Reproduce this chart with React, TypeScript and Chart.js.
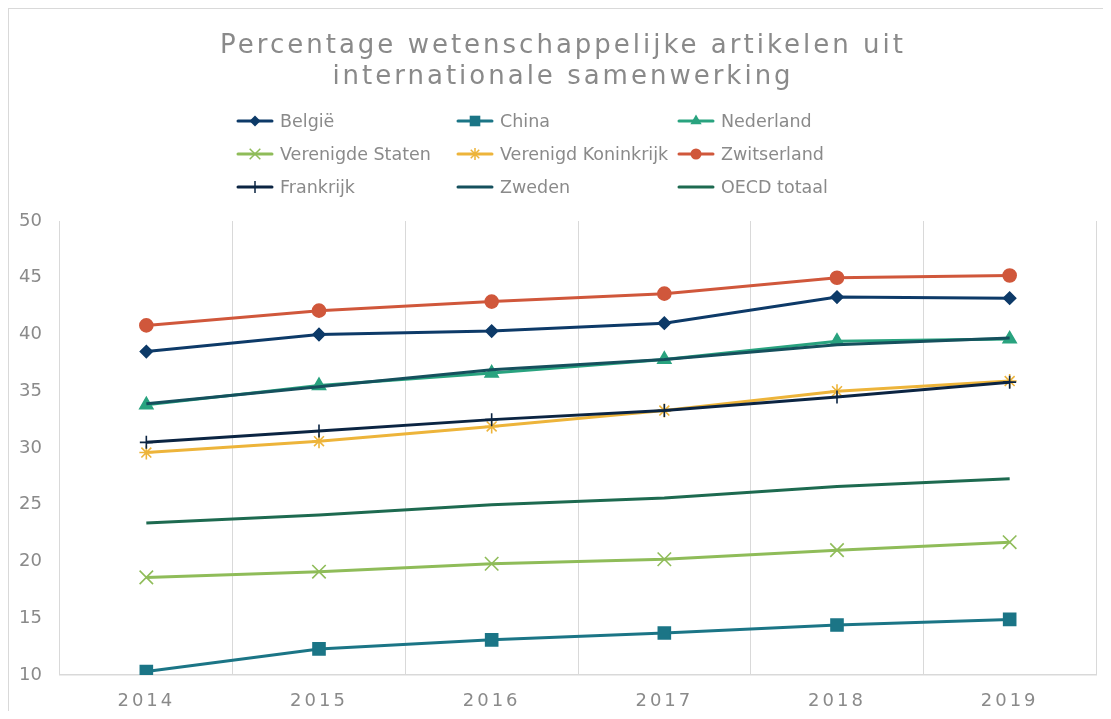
import React, { useEffect, useRef } from 'react';
import { Chart, registerables } from 'chart.js';

Chart.register(...registerables);

// ---------- data ----------
const years: string[] = ['2014', '2015', '2016', '2017', '2018', '2019'];

const belgie: number[] = [38.5, 40.0, 40.3, 41.0, 43.3, 43.2];
const china: number[] = [10.3, 12.3, 13.1, 13.7, 14.4, 14.9];
const nederland: number[] = [33.8, 35.5, 36.6, 37.8, 39.4, 39.6];
const verenigdeStaten: number[] = [18.6, 19.1, 19.8, 20.2, 21.0, 21.7];
const verenigdKoninkrijk: number[] = [29.6, 30.6, 31.9, 33.3, 35.0, 35.9];
const zwitserland: number[] = [40.8, 42.1, 42.9, 43.6, 45.0, 45.2];
const frankrijk: number[] = [30.5, 31.5, 32.5, 33.3, 34.5, 35.8];
const zweden: number[] = [33.9, 35.4, 36.9, 37.8, 39.1, 39.7];
const oecdTotaal: number[] = [23.4, 24.1, 25.0, 25.6, 26.6, 27.3];

const seriesNames: string[] = [
  'België', 'China', 'Nederland',
  'Verenigde Staten', 'Verenigd Koninkrijk', 'Zwitserland',
  'Frankrijk', 'Zweden', 'OECD totaal',
];
const seriesValues: number[][] = [
  belgie, china, nederland,
  verenigdeStaten, verenigdKoninkrijk, zwitserland,
  frankrijk, zweden, oecdTotaal,
];

const titleLines: string[] = ['Percentage wetenschappelijke artikelen uit', 'internationale samenwerking'];
const yMin = 10;
const yMax = 50;
const yStep = 5;

// ---------- styles ----------
const colors = ['#0d3a68', '#1b7586', '#29a37f', '#8fbc59', '#edb43a', '#d0573b', '#0b2442', '#15505d', '#1d6a50'];
const pointStyles: any[] = ['rectRot', 'rect', 'triangle', 'crossRot', 'star', 'circle', 'cross', false, false];
const pointRadii = [6, 8.5, 7.5, 9.5, 7, 6.5, 6.5, 0, 0];
const legendRadii = [5.5, 7.5, 6.5, 7.5, 6, 5.5, 6, 0, 0];
const FONT = "'DejaVu Sans', Verdana, sans-serif";
const TEXT_GRAY = '#8a8a8a';
const GRID = '#d9d9d9';

function drawMarker(ctx: CanvasRenderingContext2D, style: any, x: number, y: number, r: number, color: string) {
  if (!style || r <= 0) return;
  ctx.save();
  ctx.fillStyle = color;
  ctx.strokeStyle = color;
  ctx.lineWidth = 1.5;
  ctx.beginPath();
  switch (style) {
    case 'circle':
      ctx.arc(x, y, r, 0, Math.PI * 2);
      ctx.fill();
      break;
    case 'rectRot':
      ctx.moveTo(x, y - r); ctx.lineTo(x + r, y); ctx.lineTo(x, y + r); ctx.lineTo(x - r, y); ctx.closePath();
      ctx.fill();
      break;
    case 'rect': {
      const s = r * Math.SQRT1_2;
      ctx.rect(x - s, y - s, 2 * s, 2 * s);
      ctx.fill();
      break;
    }
    case 'triangle': {
      const h = r * 0.866;
      ctx.moveTo(x, y - r); ctx.lineTo(x + h, y + r / 2); ctx.lineTo(x - h, y + r / 2); ctx.closePath();
      ctx.fill();
      break;
    }
    case 'crossRot': {
      const d = r * Math.SQRT1_2;
      ctx.moveTo(x - d, y - d); ctx.lineTo(x + d, y + d);
      ctx.moveTo(x + d, y - d); ctx.lineTo(x - d, y + d);
      ctx.stroke();
      break;
    }
    case 'cross':
      ctx.moveTo(x, y - r); ctx.lineTo(x, y + r);
      ctx.moveTo(x - r, y); ctx.lineTo(x + r, y);
      ctx.stroke();
      break;
    case 'star': {
      const d = r * Math.SQRT1_2;
      ctx.moveTo(x, y - r); ctx.lineTo(x, y + r);
      ctx.moveTo(x - r, y); ctx.lineTo(x + r, y);
      ctx.moveTo(x - d, y - d); ctx.lineTo(x + d, y + d);
      ctx.moveTo(x + d, y - d); ctx.lineTo(x - d, y + d);
      ctx.stroke();
      break;
    }
  }
  ctx.restore();
}

const decorPlugin = {
  id: 'decor',
  afterDatasetsDraw(chart: any) {
    // x tick labels (z = 1) are drawn right after this hook: give them letter spacing
    (chart.ctx as any).letterSpacing = '3px';
  },
  afterDraw(chart: any) {
    const ctx: CanvasRenderingContext2D = chart.ctx;
    (ctx as any).letterSpacing = '0px';
    ctx.save();
    // title
    ctx.fillStyle = TEXT_GRAY;
    ctx.font = `26px ${FONT}`;
    (ctx as any).letterSpacing = '3px';
    ctx.textAlign = 'center';
    ctx.textBaseline = 'alphabetic';
    const cx = 554;
    ctx.fillText(titleLines[0], cx, 44);
    ctx.fillText(titleLines[1], cx, 75);
    (ctx as any).letterSpacing = '0px';

    // legend
    const colX = [228, 448, 669];
    const rowY = [112, 145, 178];
    ctx.font = `17.5px ${FONT}`;
    ctx.textAlign = 'left';
    ctx.textBaseline = 'middle';
    seriesNames.forEach((name, i) => {
      const x0 = colX[i % 3];
      const y = rowY[Math.floor(i / 3)];
      ctx.save();
      ctx.strokeStyle = colors[i];
      ctx.lineWidth = 3;
      ctx.lineCap = 'round';
      ctx.beginPath();
      ctx.moveTo(x0 + 1, y);
      ctx.lineTo(x0 + 35, y);
      ctx.stroke();
      ctx.restore();
      drawMarker(ctx, pointStyles[i], x0 + 18, y, legendRadii[i], colors[i]);
      ctx.fillStyle = TEXT_GRAY;
      ctx.fillText(name, x0 + 43, y + 1);
    });
    ctx.restore();
  },
};

export default function App() {
  const canvasRef = useRef<HTMLCanvasElement | null>(null);

  useEffect(() => {
    document.body.style.overflow = 'hidden';
    const canvas = canvasRef.current;
    if (!canvas) return;
    const datasets = seriesNames.map((name, i) => ({
      label: name,
      data: seriesValues[i],
      borderColor: colors[i],
      backgroundColor: colors[i],
      borderWidth: 3,
      pointStyle: pointStyles[i],
      pointRadius: pointRadii[i],
      pointBorderWidth: 1.6,
      pointBackgroundColor: colors[i],
      pointBorderColor: colors[i],
      tension: 0,
      fill: false,
      order: seriesNames.length - i,
    }));

    const chart = new Chart(canvas, {
      type: 'line',
      data: { labels: years, datasets },
      options: {
        animation: false,
        responsive: false,
        devicePixelRatio: 1,
        layout: { padding: { top: 212, right: 15, bottom: 0, left: 0 } },
        plugins: {
          legend: { display: false },
          title: { display: false },
          tooltip: { enabled: false },
        },
        scales: {
          x: {
            offset: true,
            grid: { display: true, color: GRID, lineWidth: 1, offset: true, drawTicks: false, z: 0 },
            border: { display: true, color: GRID, width: 1.5 },
            ticks: {
              color: TEXT_GRAY,
              font: { family: FONT, size: 18 },
              padding: 16,
              maxRotation: 0,
              z: 1,
            },
            afterFit: (scale: any) => { scale.height = 36; },
          },
          y: {
            min: yMin,
            max: yMax,
            grid: { display: false, drawTicks: false },
            border: { display: false },
            ticks: {
              stepSize: yStep,
              color: TEXT_GRAY,
              font: { family: FONT, size: 18 },
              padding: 18,
            },
            afterFit: (scale: any) => { scale.width = 51; },
          },
        },
      },
      plugins: [decorPlugin],
    });
    return () => chart.destroy();
  }, []);

  return (
    <div
      style={{
        width: 1103,
        height: 703,
        boxSizing: 'border-box',
        borderTop: '1px solid #d9d9d9',
        borderLeft: '1px solid #d9d9d9',
        overflow: 'hidden',
        background: '#fff',
      }}
    >
      <canvas ref={canvasRef} width={1102} height={702} style={{ display: 'block' }} />
    </div>
  );
}
